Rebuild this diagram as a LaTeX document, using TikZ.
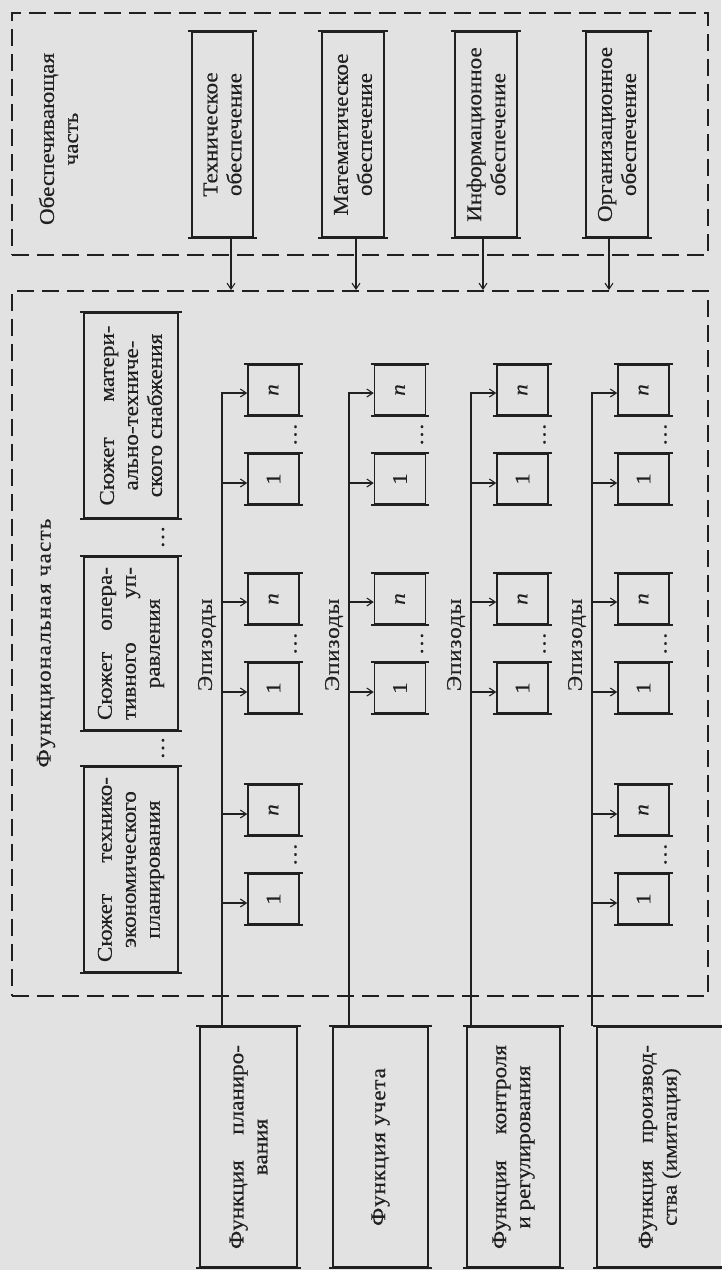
\documentclass[tikz,border=0pt]{standalone}
\usepackage{fontspec}
\setmainfont{Liberation Serif}[FakeStretch=1.1,FakeBold=0.4]
\usetikzlibrary{arrows.meta,calc}
\definecolor{bg}{RGB}{226,226,226}
\definecolor{ink}{RGB}{32,32,32}
\newcommand\rtext[2]{\rotatebox{90}{\parbox{#1}{\centering #2}}}
\newcommand\jl[1]{\makebox[\linewidth][s]{#1}}
\begin{document}
\begin{tikzpicture}[x=1pt,y=-1pt,
  every node/.style={inner sep=0pt, text=ink, font=\fontsize{21pt}{24pt}\selectfont},
  frame/.style={draw=ink, line width=1.5pt, rectangle},
  dbox/.style={draw=ink, line width=1.8pt, dash pattern=on 17pt off 8pt},
  ep/.style={frame, minimum width=51pt, minimum height=50pt},
  arr/.style={draw=ink, line width=1.1pt, -{Straight Barb[length=6pt,width=8pt]}},
  ln/.style={draw=ink, line width=1.1pt},
  vdots/.style={rotate=90},
  over/.style={draw=ink, line width=1.8pt}
]
\fill[bg] (0,0) rectangle (721,1270);
\useasboundingbox (0,0) rectangle (721,1270);

% dashed frames
\node[dbox, minimum width=696pt, minimum height=242pt] (upper) at (360,134) {};
\node[dbox, minimum width=696pt, minimum height=705pt] (lower) at (360,643.5) {};

% upper part
\node (obesp) at (58.5,139) {\rtext{200pt}{Обеспечивающая\\часть}};
\node[frame, minimum width=61pt, minimum height=205pt] (tech) at (222.5,134.5) {\rtext{190pt}{Техническое\\обеспечение}};
\node[frame, minimum width=62pt, minimum height=205pt] (math) at (353,134.5) {\rtext{190pt}{Математическое\\обеспечение}};
\node[frame, minimum width=62pt, minimum height=205pt] (info) at (486,134.5) {\rtext{190pt}{Информационное\\обеспечение}};
\node[frame, minimum width=62pt, minimum height=205pt] (org) at (617,134.5) {\rtext{190pt}{Организационное\\обеспечение}};

\draw[arr] ([xshift=8.5pt]tech.south) -- ([xshift=8.5pt]tech.south |- lower.north);
\draw[arr] ([xshift=3pt]math.south) -- ([xshift=3pt]math.south |- lower.north);
\draw[arr] ([xshift=-3pt]info.south) -- ([xshift=-3pt]info.south |- lower.north);
\draw[arr] ([xshift=-8pt]org.south) -- ([xshift=-8pt]org.south |- lower.north);

% functional part
\node[rotate=90] (func) at (46,643) {\addfontfeature{LetterSpace=6}Функциональная часть};
\node[frame, minimum width=94pt, minimum height=205pt] (smat) at (131,415.5) {\rtext{180pt}{\jl{Сюжет матери-}\\ально-техниче-\\ского снабжения}};
\node[frame, minimum width=94pt, minimum height=173pt] (soper) at (131,643.5) {\rtext{153pt}{\jl{Сюжет опера-}\\\jl{тивного уп-}\\равления}};
\node[frame, minimum width=94pt, minimum height=205pt] (stech) at (131,869.5) {\rtext{185pt}{\jl{Сюжет технико-}\\экономического\\планирования}};
\node[vdots] (sd1) at (163,537) {\dots};
\node[vdots] (sd2) at (163,748) {\dots};

% function boxes
\node[frame, minimum width=97pt, minimum height=240pt] (f1) at (248.5,1147) {\rtext{204pt}{\jl{Функция планиро-}\\вания}};
\node[frame, minimum width=95pt, minimum height=240pt] (f2) at (380.5,1147) {\rtext{204pt}{\addfontfeature{LetterSpace=4}Функция учета}};
\node[frame, minimum width=93pt, minimum height=240pt] (f3) at (513.5,1147) {\rtext{204pt}{\jl{Функция контроля}\\и регулирования}};
\node[frame, minimum width=126pt, minimum height=240pt] (f4) at (660,1147) {\rtext{204pt}{\jl{Функция производ-}\\ства (имитация)}};

% episode rows
\foreach \r/\x/\tx in {1/273.5/222, 2/400/349, 3/522.5/471, 4/643.5/592}{
  \coordinate (t\r) at (\tx,392);
  \draw[ln] (t\r) -- (t\r |- f\r.north);
  \node[rotate=90] (epl\r) at (\tx-15,645) {\addfontfeature{LetterSpace=4}Эпизоды};
  \foreach \g/\yn in {C/390, B/599}{
    \node[ep] (e\r\g n) at (\x,\yn) {\rotatebox{90}{\itshape n}};
    \node[ep] (e\r\g o) at (\x,\yn+89) {\rotatebox{90}{1}};
    \node[vdots] (d\r\g) at (\x+22,\yn+44.5) {\dots};
    \draw[arr] (t\r |- e\r\g n.west) ++(0,3) -- ([yshift=-3pt]e\r\g n.west);
    \draw[arr] (t\r |- e\r\g o.west) ++(0,4) -- ([yshift=-4pt]e\r\g o.west);
  }
}
\foreach \r/\x/\tx in {1/273.5/222, 4/643.5/592}{
  \node[ep] (e\r An) at (\x,810) {\rotatebox{90}{\itshape n}};
  \node[ep] (e\r Ao) at (\x,899) {\rotatebox{90}{1}};
  \node[vdots] (d\r A) at (\x+22,854.5) {\dots};
  \draw[arr] (t\r |- e\r An.west) ++(0,4) -- ([yshift=-4pt]e\r An.west);
  \draw[arr] (t\r |- e\r Ao.west) ++(0,4) -- ([yshift=-4pt]e\r Ao.west);
}

% printed rules: horizontal edges slightly overshooting
\foreach \b in {tech,math,info,org,smat,soper,stech,f1,f2,f3,f4,
  e1Cn,e1Co,e1Bn,e1Bo,e1An,e1Ao,e2Cn,e2Co,e2Bn,e2Bo,
  e3Cn,e3Co,e3Bn,e3Bo,e4Cn,e4Co,e4Bn,e4Bo,e4An,e4Ao}{
  \draw[over] ([xshift=-3pt]\b.north west) -- ([xshift=3pt]\b.north east);
  \draw[over] ([xshift=-3pt]\b.south west) -- ([xshift=3pt]\b.south east);
}
\end{tikzpicture}
\end{document}
